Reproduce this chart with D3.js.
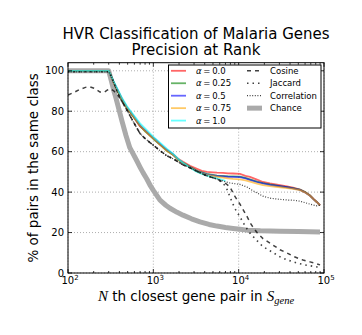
<!DOCTYPE html>
<html>
<head>
<meta charset="utf-8">
<script src="https://cdn.jsdelivr.net/npm/d3@7"></script>
<style>
  html, body { margin: 0; padding: 0; background: #fff; }
  svg { display: block; font-family: "DejaVu Sans", sans-serif; }
</style>
</head>
<body>
<svg id="chart" width="362" height="335"></svg>
<script>
// ---- data (N-th closest pair, % of pairs in same class) ----
const titleLines = ["HVR Classification of Malaria Genes", "Precision at Rank"];
const yLabel = "% of pairs in the same class";
const xTicks = [100, 1000, 10000, 100000];
const xTickExps = ["2", "3", "4", "5"];
const yTicks = [0, 20, 40, 60, 80, 100];

const alpha00 = [[100,100],[300,100],[312,98.5],[345,94],[380,90.5],[430,86],[491,81.5],[578,77.5],[698,72.5],[800,70.5],[914,68],[1050,66],[1197,63.5],[1435,61],[1700,58.5],[1950,56.5],[2227,55],[2690,53],[3249,51.5],[3700,50.5],[4256,50],[5000,49.8],[5570,49.6],[6552,49.5],[7500,49.3],[8584,49.2],[10366,49],[12000,48],[13580,47.5],[16400,46.2],[19280,45],[23290,44.3],[30500,43.5],[36850,42.8],[43350,42.2],[52360,41.3],[60000,40],[68550,38.4],[76000,36.5],[82800,35],[89800,33.5]];
const alpha025 = [[100,100],[300,100],[312,98.5],[345,94],[380,90],[430,85.5],[491,81.5],[578,77.5],[698,72.8],[800,70],[914,68],[1050,65.5],[1197,63.5],[1435,60.5],[1700,58.5],[1950,56],[2227,54.5],[2690,52.5],[3249,50.5],[3700,49.8],[4256,49],[5000,48.5],[5570,48.2],[6552,48],[7500,47.8],[8584,47.8],[10366,47.7],[12000,47],[13580,46.3],[16400,45.2],[19280,44.5],[23290,43.8],[30500,43],[36850,42.5],[43350,42],[52360,41.2],[60000,40],[68550,38.3],[76000,36.4],[82800,35],[89800,33.5]];
const alpha05 = [[100,100],[300,100],[312,98.5],[345,94.2],[380,90.5],[430,86],[491,82],[578,78],[698,73],[800,70.5],[914,68.2],[1050,66],[1197,63.8],[1435,60.8],[1700,58.7],[1950,56.2],[2227,54.3],[2690,52.3],[3249,50.3],[3700,49.5],[4256,48.8],[5000,48.3],[5570,48],[6552,47.8],[7500,47.6],[8584,47.5],[10366,47.4],[12000,46.8],[13580,46.1],[16400,45],[19280,44.3],[23290,43.6],[30500,42.9],[36850,42.4],[43350,41.9],[52360,41.1],[60000,39.8],[68550,38.2],[76000,36.3],[82800,35],[89800,33.5]];
const alpha075 = [[100,100],[300,100],[312,98.5],[345,94],[380,90.3],[430,85.8],[491,81.8],[578,77.8],[698,72.8],[800,70.3],[914,68],[1050,65.8],[1197,63.5],[1435,60.5],[1700,58.5],[1950,56],[2227,54.3],[2690,52.2],[3249,50.2],[3700,49.3],[4256,48.5],[5000,48],[5570,47.6],[6552,47.2],[7500,46.8],[8584,46.5],[10366,46.3],[12000,45.8],[13580,45.2],[16400,44.2],[19280,43.5],[23290,43],[30500,42.4],[36850,42],[43350,41.6],[52360,41],[60000,39.8],[68550,38.2],[76000,36.3],[82800,35],[89800,33.5]];
const alpha10 = [[100,100],[300,100],[312,98.5],[345,94.5],[380,91],[430,86.5],[491,82.5],[578,78.5],[698,74],[800,71.5],[914,69],[1050,66.5],[1197,64.5],[1435,61.5],[1700,59],[1950,56.5],[2227,54.5],[2690,52],[3249,50],[3700,49],[4256,48.2],[5000,47.3],[5570,46.8],[6552,46],[7000,45.5]];
const cosine = [[100,88],[120,89.5],[138,90.8],[160,91.8],[181,92],[207,91.2],[237,89.5],[264,89.3],[290,90.5],[320,91],[345,90],[375,88.5],[420,85.5],[491,80.5],[578,75],[698,69],[800,66.5],[914,64.5],[1050,62.5],[1197,60.5],[1435,58],[1700,56.5],[2227,53.5],[2690,52],[3249,50.3],[4256,48],[5570,46.5],[6552,45],[7200,44],[7915,42.5],[9000,38],[10366,34],[12520,28],[14000,24],[16400,20],[19280,17],[23290,14.8],[30500,11.5],[36850,9.9],[45000,8],[56760,6.4],[68550,5.5],[82800,4.5],[89800,4]];
const jaccard = [[100,99.5],[300,99.5],[320,97.5],[345,94],[375,90],[420,85.5],[491,80.5],[578,75],[698,69],[800,66.5],[914,64.5],[1050,62.5],[1197,60.5],[1435,58],[1700,56.5],[2227,53.5],[2690,52],[3249,50.3],[4256,48],[5570,46.5],[6552,44.5],[7200,42],[7915,37.6],[9000,32],[10366,27.7],[12000,23],[13580,19.7],[16400,16],[19280,13],[23290,11],[30500,8],[36850,6.5],[48300,4.9],[60000,4],[82800,3],[89800,2.8]];
const correlation = [[100,99.5],[300,99.5],[320,97.5],[345,94],[375,90],[420,85.5],[491,80.5],[578,75],[698,69],[800,66.5],[914,64.5],[1050,62.5],[1197,60.5],[1435,58],[1700,56.5],[2227,53.5],[2690,52],[3249,50.3],[4256,48],[5570,46.5],[6552,45.5],[7915,44.5],[10366,43.8],[12520,42.5],[15000,40.5],[19280,38],[23290,37],[30500,36.4],[36850,36.1],[43350,36],[52360,35.5],[63230,34.5],[72000,33.8],[82800,33.2],[89800,33.5]];
const chance = [[100,100],[300,100],[320,95.5],[345,90],[365,86.5],[400,80],[430,75],[478,68],[530,62],[578,59],[640,55.5],[698,52.4],[760,49.5],[836,46.6],[914,43.5],[1000,40.9],[1197,36],[1400,33.5],[1567,32],[1900,30],[2227,28.6],[2800,26.8],[3524,25.3],[4500,24],[5570,23.2],[7000,22.5],[8590,22],[10366,21.6],[12540,21.2],[18000,20.9],[30500,20.7],[50000,20.5],[89800,20.3]];

const alphaNames = ["0.0", "0.25", "0.5", "0.75", "1.0"];
const alphaColors = ["red", "green", "blue", "orange", "cyan"];
const otherNames = ["Cosine", "Jaccard", "Correlation", "Chance"];

// ---- layout ----
const svg = d3.select("#chart");
const L = 68, R = 324, T = 62.7, B = 273;
const x = d3.scaleLog().domain([100, 100000]).range([L, R]);
const y = d3.scaleLinear().domain([0, 104]).range([B, T]);

// clip
svg.append("defs").append("clipPath").attr("id", "clip")
  .append("rect").attr("x", L).attr("y", T).attr("width", R - L).attr("height", B - T);

// grid
const grid = svg.append("g").attr("stroke", "#777").attr("stroke-width", 0.6).attr("stroke-dasharray", "1,2");
xTicks.forEach(t => grid.append("line").attr("x1", x(t)).attr("x2", x(t)).attr("y1", T).attr("y2", B));
yTicks.forEach(t => grid.append("line").attr("x1", L).attr("x2", R).attr("y1", y(t)).attr("y2", y(t)));

const line = d3.line().x(d => x(d[0])).y(d => y(d[1]));
const plot = svg.append("g").attr("clip-path", "url(#clip)");

plot.append("path").datum(chance).attr("d", line).attr("fill", "none")
  .attr("stroke", "#aaaaaa").attr("stroke-width", 5).attr("stroke-linejoin", "round");

const alphaSeries = [alpha00, alpha025, alpha05, alpha075, alpha10];
alphaSeries.forEach((s, i) => {
  plot.append("path").datum(s).attr("d", line).attr("fill", "none")
    .attr("stroke", alphaColors[i]).attr("stroke-opacity", 0.6).attr("stroke-width", 1.8);
});

const otherStyles = [
  {data: cosine, dash: "4,4", w: 1.5},
  {data: jaccard, dash: "1.5,4", w: 1.6},
  {data: correlation, dash: "1,1.6", w: 1.2}
];
otherStyles.forEach(s => {
  plot.append("path").datum(s.data).attr("d", line).attr("fill", "none")
    .attr("stroke", "#111").attr("stroke-opacity", 0.8).attr("stroke-width", s.w)
    .attr("stroke-dasharray", s.dash);
});

// frame
svg.append("rect").attr("x", L).attr("y", T).attr("width", R - L).attr("height", B - T)
  .attr("fill", "none").attr("stroke", "#000").attr("stroke-width", 1);

// ticks (inward, all sides)
const tk = svg.append("g").attr("stroke", "#000").attr("stroke-width", 0.8);
yTicks.forEach(t => {
  tk.append("line").attr("x1", L).attr("x2", L + 4).attr("y1", y(t)).attr("y2", y(t));
  tk.append("line").attr("x1", R).attr("x2", R - 4).attr("y1", y(t)).attr("y2", y(t));
});
xTicks.forEach(t => {
  tk.append("line").attr("x1", x(t)).attr("x2", x(t)).attr("y1", B).attr("y2", B - 4);
  tk.append("line").attr("x1", x(t)).attr("x2", x(t)).attr("y1", T).attr("y2", T + 4);
});
x.ticks().filter(t => !xTicks.includes(t)).forEach(t => {
  tk.append("line").attr("x1", x(t)).attr("x2", x(t)).attr("y1", B).attr("y2", B - 2);
  tk.append("line").attr("x1", x(t)).attr("x2", x(t)).attr("y1", T).attr("y2", T + 2);
});

// y tick labels
svg.append("g").selectAll("text").data(yTicks).join("text")
  .attr("x", L - 4).attr("y", d => y(d)).attr("dy", "0.36em")
  .attr("text-anchor", "end").attr("font-size", 10).text(d => d);

// x tick labels
const xl = svg.append("g").selectAll("text").data(xTicks).join("text")
  .attr("x", d => x(d) + 2).attr("y", 284).attr("text-anchor", "middle").attr("font-size", 10);
xl.append("tspan").text("10");
xl.append("tspan").attr("dy", -4.5).attr("font-size", 7).text((d, i) => xTickExps[i]);

// titles
svg.append("text").attr("x", (L + R) / 2).attr("y", 39.3).attr("text-anchor", "middle")
  .attr("font-size", 15).text(titleLines[0]);
svg.append("text").attr("x", (L + R) / 2).attr("y", 55.3).attr("text-anchor", "middle")
  .attr("font-size", 15).text(titleLines[1]);

// y label
svg.append("text").attr("transform", `translate(38,${(T + B) / 2}) rotate(-90)`)
  .attr("text-anchor", "middle").attr("font-size", 13.5).text(yLabel);

// x label
const xlab = svg.append("text").attr("x", (L + R) / 2).attr("y", 301)
  .attr("text-anchor", "middle").attr("font-size", 13.5);
xlab.append("tspan").attr("font-family", "Liberation Serif, serif").attr("font-style", "italic")
  .attr("font-size", 15).text("N");
xlab.append("tspan").text(" th closest gene pair in ");
xlab.append("tspan").attr("font-family", "Liberation Serif, serif").attr("font-style", "italic")
  .attr("font-size", 15).text("S");
xlab.append("tspan").attr("font-family", "Liberation Serif, serif").attr("font-style", "italic")
  .attr("font-size", 10.5).attr("dy", 3).text("gene");

// legend
const lg = svg.append("g");
lg.append("rect").attr("x", 168.5).attr("y", 65).attr("width", 152.5).attr("height", 63)
  .attr("fill", "#fff").attr("stroke", "#000").attr("stroke-width", 1);
const rowY = i => 70.8 + i * 12.45;
alphaNames.forEach((nm, i) => {
  lg.append("line").attr("x1", 171).attr("x2", 186).attr("y1", rowY(i)).attr("y2", rowY(i))
    .attr("stroke", alphaColors[i]).attr("stroke-opacity", 0.6).attr("stroke-width", 1.8);
  const t = lg.append("text").attr("x", 196).attr("y", rowY(i)).attr("dy", "0.36em").attr("font-size", 8.5);
  t.append("tspan").attr("font-style", "italic").text("α");
  t.append("tspan").text("\u2009=\u2009" + nm);
});
const legStyles = [
  {dash: "4,4", w: 1.5, c: "#111", o: 0.8},
  {dash: "1.5,4", w: 1.6, c: "#111", o: 0.8},
  {dash: "1,1.6", w: 1.2, c: "#111", o: 0.8},
  {dash: null, w: 5, c: "#aaaaaa", o: 1}
];
otherNames.forEach((nm, i) => {
  const ln = lg.append("line").attr("x1", 247).attr("x2", 262).attr("y1", rowY(i)).attr("y2", rowY(i))
    .attr("stroke", legStyles[i].c).attr("stroke-opacity", legStyles[i].o).attr("stroke-width", legStyles[i].w);
  if (legStyles[i].dash) ln.attr("stroke-dasharray", legStyles[i].dash);
  lg.append("text").attr("x", 270).attr("y", rowY(i)).attr("dy", "0.36em").attr("font-size", 8.5).text(nm);
});
</script>
</body>
</html>
